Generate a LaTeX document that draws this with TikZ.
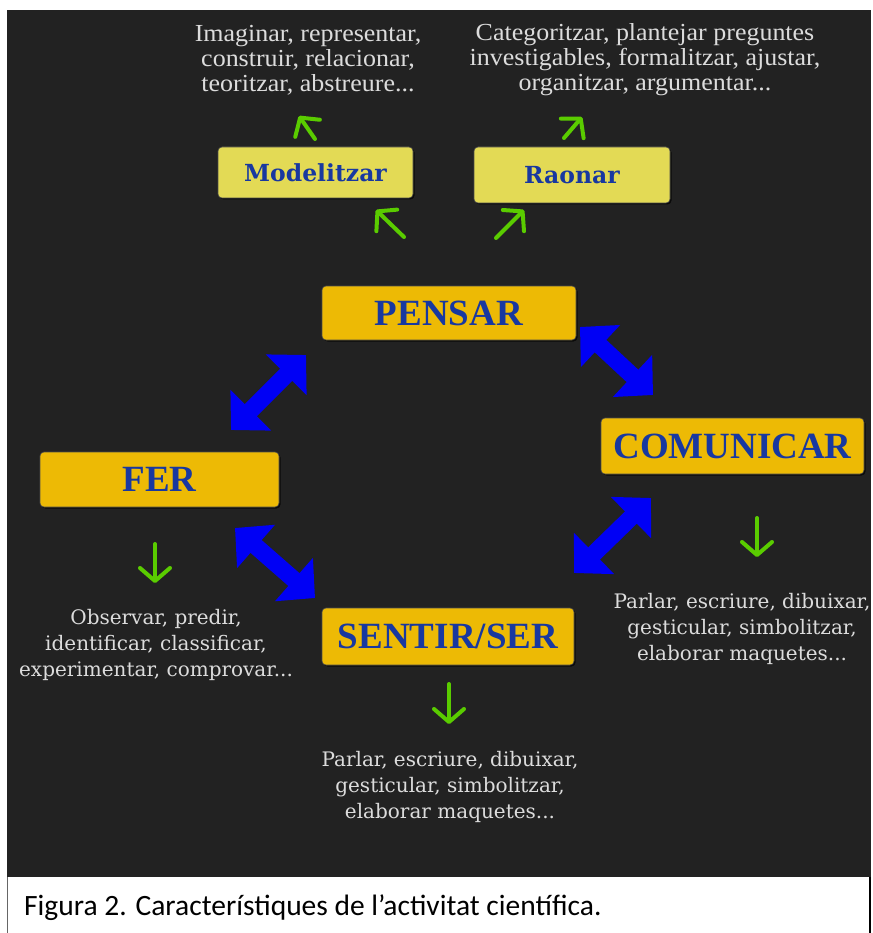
\documentclass[tikz,border=0pt]{standalone}
\usepackage{fontspec}
\setmainfont{Liberation Serif}
\newfontfamily\topfont[FakeStretch=1.06]{Liberation Serif}
\newfontfamily\dvsfont{DejaVu Serif}
\newfontfamily\capfont{Carlito}
\usetikzlibrary{arrows.meta,shadows}
\definecolor{bgdark}{HTML}{222222}
\definecolor{gold}{HTML}{EDBA05}
\definecolor{paleyel}{HTML}{E3DA55}
\definecolor{labblue}{HTML}{1838A0}
\definecolor{greytext}{HTML}{DCDCDC}
\definecolor{arrgreen}{HTML}{5ACC00}
\definecolor{arrblue}{HTML}{0000F5}
\tikzset{
  bigbox/.style={fill=gold, draw=black!70, line width=0.6pt, rounded corners=4pt,
    text=labblue, font=\bfseries\fontsize{37}{37}\selectfont, inner sep=0pt,
    drop shadow={shadow xshift=1.5pt, shadow yshift=-1.5pt, opacity=0.7, fill=black}},
  smallbox/.style={fill=paleyel, draw=black!70, line width=0.6pt, rounded corners=4pt,
    text=labblue, font=\dvsfont\bfseries\fontsize{23.5}{23.5}\selectfont, inner sep=0pt,
    drop shadow={shadow xshift=1.5pt, shadow yshift=-1.5pt, opacity=0.7, fill=black}},
  toptext/.style={text=greytext, align=center, font=\topfont\fontsize{24.5}{25}\selectfont, inner sep=0pt},
  lowtext/.style={text=greytext, align=center, font=\dvsfont\fontsize{20}{26}\selectfont, inner sep=0pt},
  garrow/.style={draw=arrgreen, line width=4pt, line cap=round,
    -{Straight Barb[length=13pt,width=30pt,line cap=round,line join=round]}},
  barrow/.style={draw=arrblue, line width=17pt,
    {Triangle[width=56pt,length=28pt]}-{Triangle[width=56pt,length=28pt]}},
}
\begin{document}
\begin{tikzpicture}[x=1pt,y=-1pt]
\useasboundingbox (0,0) rectangle (872,933);
\fill[white] (0,0) rectangle (872,933);
\fill[bgdark] (7,10) rectangle (871,877);
\draw[black!60, line width=1pt] (7.5,877) -- (7.5,933);
\draw[black, line width=1.5pt] (870,877) -- (870,933);

% boxes
\node[smallbox, minimum width=195pt, minimum height=51pt] (model) at (315.5,172.5) {Modelitzar};
\node[smallbox, minimum width=196pt, minimum height=56pt] (raonar) at (572,175) {Raonar};
\node[bigbox, minimum width=254pt, minimum height=54pt] (pensar) at (449,313) {PENSAR};
\node[bigbox, minimum width=263pt, minimum height=56pt] (comunicar) at (732.5,446) {COMUNICAR};
\node[bigbox, minimum width=239pt, minimum height=55pt] (fer) at (159.5,479.5) {FER};
\node[bigbox, minimum width=252pt, minimum height=57pt] (sentir) at (448,636.5) {SENTIR/SER};

% texts
\node[toptext] (tmodel) at (308,60) {Imaginar, representar,\\construir, relacionar,\\teoritzar, abstreure...};
\node[toptext] (traonar) at (645,60) {Categoritzar, plantejar preguntes\\investigables, formalitzar, ajustar,\\organitzar, argumentar...};
\node[lowtext] (tfer) at (156,645) {Observar, predir,\\identificar, classificar,\\experimentar, comprovar...};
\node[lowtext] (tcom) at (742,629) {Parlar, escriure, dibuixar,\\gesticular, simbolitzar,\\elaborar maquetes...};
\node[lowtext] (tsent) at (450,787) {Parlar, escriure, dibuixar,\\gesticular, simbolitzar,\\elaborar maquetes...};

% green arrow coordinates
\coordinate (g1a) at (315,139); \coordinate (g1b) at (299,116);
\coordinate (g2a) at (564,138); \coordinate (g2b) at (582,117);
\coordinate (g3a) at (404,237); \coordinate (g3b) at (376,210);
\coordinate (g4a) at (496,238); \coordinate (g4b) at (524,210);
\coordinate (g5a) at (155,544); \coordinate (g5b) at (155,583);
\coordinate (g6a) at (757,518); \coordinate (g6b) at (757,557);
\coordinate (g7a) at (449,684); \coordinate (g7b) at (449,724);
\draw[garrow] (g1a) -- (g1b);
\draw[garrow] (g2a) -- (g2b);
\draw[garrow] (g3a) -- (g3b);
\draw[garrow] (g4a) -- (g4b);
\draw[garrow] (g5a) -- (g5b);
\draw[garrow] (g6a) -- (g6b);
\draw[garrow] (g7a) -- (g7b);

% blue arrow coordinates
\coordinate (b1a) at (231,430); \coordinate (b1b) at (306,355);
\coordinate (b2a) at (580,327); \coordinate (b2b) at (653,395);
\coordinate (b3a) at (235,528); \coordinate (b3b) at (315,598);
\coordinate (b4a) at (651,498); \coordinate (b4b) at (574,573);
\draw[barrow] (b1a) -- (b1b);
\draw[barrow] (b2a) -- (b2b);
\draw[barrow] (b3a) -- (b3b);
\draw[barrow] (b4a) -- (b4b);

% caption
\node[anchor=west, inner sep=0pt, font=\capfont\fontsize{29.5}{29.5}\selectfont] (caption) at (24,908) {Figura 2. Característiques de l’activitat científica.};
\end{tikzpicture}
\end{document}
